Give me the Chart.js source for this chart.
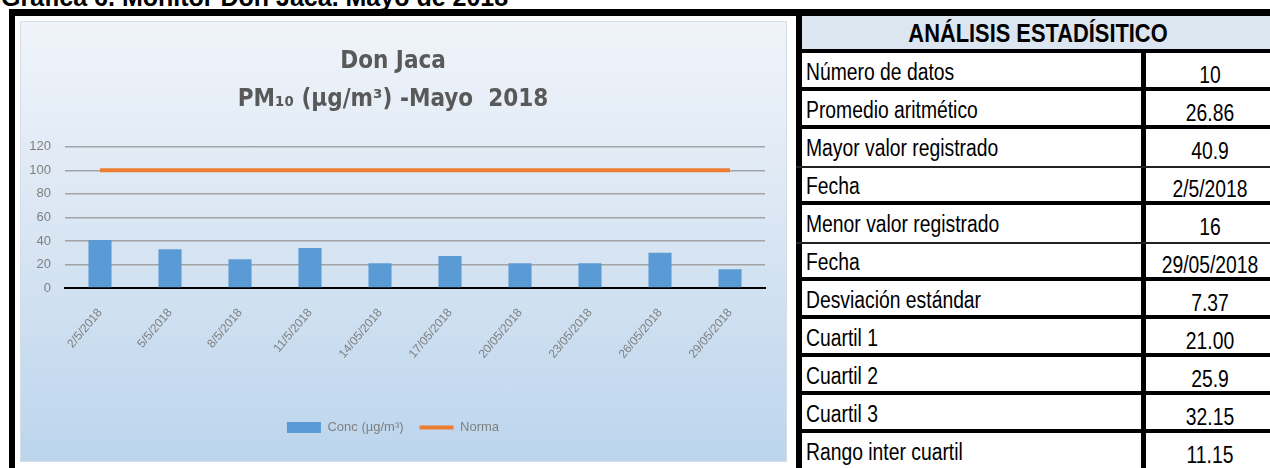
<!DOCTYPE html>
<html>
<head>
<meta charset="utf-8">
<script src="https://cdn.jsdelivr.net/npm/chart.js@4.4.1/dist/chart.umd.min.js"></script>
<style>
  html, body { margin:0; padding:0; background:#fff; }
  body { width:1270px; height:468px; position:relative; overflow:hidden; font-family:'Liberation Sans', Arial, sans-serif; }
  #topTitle { position:absolute; left:1px; top:-17px; font:bold 25px 'Liberation Sans', Arial, sans-serif; color:#000; white-space:nowrap; line-height:normal; }
  #frame { position:absolute; left:9px; top:9px; width:787px; height:470px; border-left:6px solid #000; border-top:7px solid #000; box-sizing:border-box; }
  #panel { position:absolute; left:21px; top:22px; width:765px; height:439px; background:linear-gradient(#f0f4fa 0%, #dde8f4 40%, #bcd5ed 100%); outline:1px solid #d6dde6; }
  #panel canvas { position:absolute; left:0; top:0; }
  #table { position:absolute; left:796px; top:9px; width:480px; height:470px; }
  .tline { position:absolute; background:#000; }
  .cell { position:absolute; font-family:'Liberation Sans', Arial, sans-serif; font-size:23px; color:#000; white-space:nowrap; line-height:1; }
</style>
</head>
<body>
<div id="topTitle">Gráfica 6. Monitor Don Jaca. Mayo de 2018</div>
<div id="frame"></div>
<div id="panel"><canvas id="c" width="765" height="439"></canvas></div>
<div id="table"></div>
<script>
// ---- data ----
const categories = ['2/5/2018','5/5/2018','8/5/2018','11/5/2018','14/05/2018','17/05/2018','20/05/2018','23/05/2018','26/05/2018','29/05/2018'];
const concValues = [40.9, 32.9, 24.5, 34.0, 21.0, 27.3, 21.0, 21.0, 30.0, 16.0];
const normaValues = [100, 100, 100, 100, 100, 100, 100, 100, 100, 100];
const yTicks = [0, 20, 40, 60, 80, 100, 120];
const seriesNames = ['Conc (µg/m³)', 'Norma'];
const chartTitle = ['Don Jaca', 'PM₁₀ (µg/m³) -Mayo  2018'];
const tableHeader = 'ANÁLISIS ESTADÍSITICO';
const statLabels = ['Número de datos','Promedio aritmético','Mayor valor registrado','Fecha','Menor valor registrado','Fecha','Desviación estándar','Cuartil 1','Cuartil 2','Cuartil 3','Rango inter cuartil'];
const statValues = ['10','26.86','40.9','2/5/2018','16','29/05/2018','7.37','21.00','25.9','32.15','11.15'];
const thinBorderBefore = [3, 5]; // rows preceded by a thin rule

// ---- chart ----
const condensed = "'DejaVu Sans Condensed','Liberation Sans Narrow',sans-serif";
const plain = "'Liberation Sans',Arial,sans-serif";
new Chart(document.getElementById('c'), {
  type: 'bar',
  data: {
    labels: categories,
    datasets: [
      { type:'line', label: seriesNames[1], data: normaValues, borderColor:'#ed7d31', backgroundColor:'#ed7d31', borderWidth:4, pointRadius:0, pointStyle:'line', order:0 },
      { type:'bar', label: seriesNames[0], data: concValues, backgroundColor:'#5b9bd5', borderWidth:0, barPercentage:0.33, categoryPercentage:1, pointStyle:'rect', order:1 }
    ]
  },
  options: {
    responsive:false, animation:false, devicePixelRatio:1,
    layout: { padding: { left:0, right:21, top:0, bottom:17 } },
    plugins: {
      title: { display:true, text: chartTitle, color:'#595959', font:{ family:condensed, size:24, weight:'bold', lineHeight:1.58 }, padding:{ top:21, bottom:28 } },
      legend: { position:'bottom', reverse:true,
        labels: { usePointStyle:true, pointStyleWidth:34, boxHeight:11, padding:16, color:'#7f7f7f', font:{ family:plain, size:13 } } },
      tooltip: { enabled:false }
    },
    scales: {
      x: {
        grid: { display:false },
        border: { display:true, color:'#000', width:2 },
        ticks: { color:'#7f7f7f', font:{ family:plain, size:12 }, minRotation:50, maxRotation:50, padding:10 },
        afterFit: s => { s.height = 117; }
      },
      y: {
        min:0, max:120,
        afterBuildTicks: s => { s.ticks = yTicks.map(v => ({ value:v })); },
        grid: { color:'#a3a3a3', lineWidth:1.5, drawTicks:false },
        border: { display:false },
        ticks: { color:'#7f7f7f', font:{ family:plain, size:13 }, padding:14 },
        afterFit: s => { s.width = 44; }
      }
    }
  }
});

// ---- table ----
const T = document.getElementById('table');
function line(x, y, w, h, color) {
  const d = document.createElement('div'); d.className = 'tline';
  d.style.cssText = `left:${x}px;top:${y}px;width:${w}px;height:${h}px;` + (color ? `background:${color};` : '');
  T.appendChild(d);
}
function text(str, x, y, w, align, extra) {
  const d = document.createElement('div'); d.className = 'cell';
  d.textContent = str;
  const origin = align === 'left' ? 'left center' : 'center center';
  d.style.cssText = `left:${x}px;top:${y}px;width:${w}px;text-align:${align};transform:scaleX(0.84);transform-origin:${origin};` + (extra || '');
  T.appendChild(d);
}
const W = 480, colX = 345, pitch = 38, firstTop = 43;
// header background
const hb = document.createElement('div');
hb.style.cssText = 'position:absolute;left:6px;top:7px;width:474px;height:33px;background:#dce6f1;';
T.appendChild(hb);
text(tableHeader, 6, 11, 472, 'center', 'font-weight:bold;font-size:26px;');
line(0, 0, W, 7);           // top border
line(0, 0, 6, 470);         // left border
line(colX, firstTop, 5, 470); // column divider
statLabels.forEach((lab, i) => {
  const top = firstTop + i * pitch;
  if (thinBorderBefore.includes(i)) line(0, top, W, 2, '#222');
  else line(0, top - 3, W, 4);
  text(lab, 10, top + 9, 330, 'left');
  text(statValues[i], colX + 5, top + 12, 128, 'center');
});
</script>
</body>
</html>
